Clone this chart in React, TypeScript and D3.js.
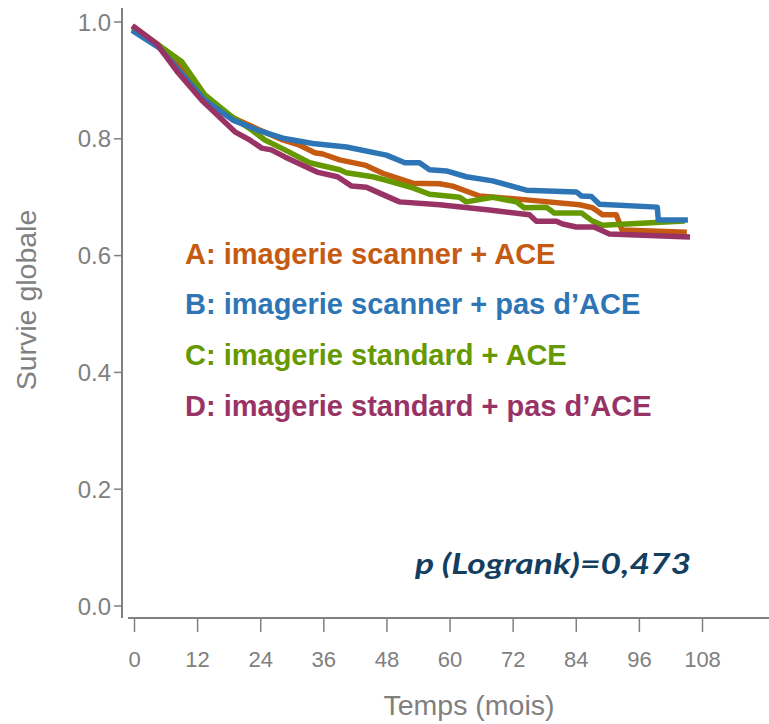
import React from "react";
import * as d3 from "d3";

// Kaplan-Meier style survival curves: [time (months), survival]
const seriesA: [number, number][] = [
  [0, 0.99], [4.5, 0.961], [9.2, 0.918], [13.4, 0.87], [18.7, 0.836], [23.8, 0.815],
  [28.2, 0.798], [31.4, 0.789], [34.3, 0.776], [35.8, 0.774], [39.0, 0.764], [43.8, 0.755],
  [47.2, 0.741], [52.9, 0.724], [58.0, 0.723], [60.5, 0.719], [65.6, 0.702], [75.1, 0.695],
  [84.6, 0.687], [87.1, 0.682], [89.0, 0.67], [91.6, 0.67], [92.7, 0.644], [104.5, 0.64],
];
const seriesB: [number, number][] = [
  [0, 0.983], [4.8, 0.955], [13.4, 0.866], [18.7, 0.832], [23.4, 0.815], [28.2, 0.801],
  [33.9, 0.792], [40.3, 0.786], [47.9, 0.772], [51.4, 0.759], [54.2, 0.759], [56.1, 0.747],
  [59.3, 0.745], [63.1, 0.735], [68.1, 0.728], [74.5, 0.712], [84.0, 0.709], [85.0, 0.702],
  [86.9, 0.701], [88.4, 0.688], [99.4, 0.683], [99.6, 0.661], [104.7, 0.661],
];
const seriesC: [number, number][] = [
  [0, 0.986], [4.5, 0.961], [9.0, 0.932], [13.4, 0.875], [18.5, 0.838], [22.3, 0.815],
  [24.8, 0.798], [28.6, 0.781], [33.3, 0.759], [39.0, 0.747], [40.3, 0.742], [45.3, 0.735],
  [47.9, 0.729], [52.9, 0.716], [56.1, 0.705], [61.8, 0.7], [63.1, 0.692], [68.1, 0.7],
  [72.6, 0.692], [74.1, 0.682], [78.3, 0.683], [79.8, 0.673], [85.0, 0.673], [87.1, 0.659],
  [89.0, 0.652], [104.1, 0.659],
];
const seriesD: [number, number][] = [
  [0, 0.991], [4.2, 0.963], [8.3, 0.913], [12.8, 0.866], [19.1, 0.812], [21.9, 0.798],
  [24.2, 0.784], [26.0, 0.781], [28.6, 0.769], [34.7, 0.743], [38.6, 0.735], [41.3, 0.719],
  [44.1, 0.717], [46.6, 0.707], [50.4, 0.692], [58.0, 0.687], [67.5, 0.678], [75.1, 0.67],
  [76.4, 0.659], [80.2, 0.659], [81.4, 0.654], [84.0, 0.649], [87.4, 0.649], [90.3, 0.637],
  [105.1, 0.632],
];

const legendLabels = [
  "A: imagerie scanner + ACE",
  "B: imagerie scanner + pas d\u2019ACE",
  "C: imagerie standard + ACE",
  "D: imagerie standard + pas d\u2019ACE",
];
const xTicks = [0, 12, 24, 36, 48, 60, 72, 84, 96, 108];
const yTicks = [0, 0.2, 0.4, 0.6, 0.8, 1.0];
const pValueText = "p (Logrank)=0,473";

const colors = {
  A: "#C55A11",
  B: "#2E75B6",
  C: "#669900",
  D: "#993366",
};
const axisGray = "#808080";

export default function App() {
  const width = 769;
  const height = 724;
  const x = d3.scaleLinear().domain([0, 108]).range([134.5, 702.5]);
  const y = d3.scaleLinear().domain([0, 1]).range([606, 22]);
  const line = d3
    .line<[number, number]>()
    .x((d) => x(d[0]))
    .y((d) => y(d[1]))
    .curve(d3.curveLinear);

  // drawing order: orange, green, blue, purple on top
  const curves = [
    { data: seriesA, color: colors.A },
    { data: seriesC, color: colors.C },
    { data: seriesB, color: colors.B },
    { data: seriesD, color: colors.D },
  ];
  const legendColors = [colors.A, colors.B, colors.C, colors.D];
  const legendBaselines = [264, 314, 365, 416];

  const yAxisX = 122;
  const xAxisY = 618;

  return (
    <svg
      width={width}
      height={height}
      style={{ position: "absolute", left: 0, top: 0, background: "#fff" }}
      fontFamily="'Liberation Sans', Arial, sans-serif"
    >
      <rect x={0} y={0} width={width} height={height} fill="#fff" />

      {/* y axis */}
      <line x1={yAxisX} x2={yAxisX} y1={8} y2={618} stroke={axisGray} strokeWidth={2} />
      {yTicks.map((t) => (
        <g key={t}>
          <line x1={yAxisX - 8} x2={yAxisX} y1={y(t)} y2={y(t)} stroke={axisGray} strokeWidth={1.5} />
          <text
            x={111}
            y={y(t)}
            dy="0.36em"
            textAnchor="end"
            fontSize={24}
            fill={axisGray}
          >
            {t.toFixed(1)}
          </text>
        </g>
      ))}
      <text
        transform={`translate(36, 300) rotate(-90)`}
        textAnchor="middle"
        fontSize={28.5}
        fill={axisGray}
      >
        Survie globale
      </text>

      {/* x axis */}
      <line x1={128} x2={769} y1={xAxisY} y2={xAxisY} stroke={axisGray} strokeWidth={2} />
      {xTicks.map((t) => (
        <g key={t}>
          <line x1={x(t)} x2={x(t)} y1={xAxisY} y2={xAxisY + 14} stroke={axisGray} strokeWidth={1.5} />
          <text x={x(t)} y={667} textAnchor="middle" fontSize={22} fill={axisGray}>
            {t}
          </text>
        </g>
      ))}
      <text x={469} y={715} textAnchor="middle" fontSize={28.5} fill={axisGray}>
        Temps (mois)
      </text>

      {/* survival curves */}
      {curves.map((c, i) => (
        <path
          key={i}
          d={line(c.data) || ""}
          fill="none"
          stroke={c.color}
          strokeWidth={5.5}
          strokeLinejoin="round"
          strokeLinecap="square"
        />
      ))}

      {/* legend */}
      {legendLabels.map((label, i) => (
        <text
          key={label}
          x={185}
          y={legendBaselines[i]}
          fontSize={29}
          fontWeight="bold"
          fill={legendColors[i]}
        >
          {label}
        </text>
      ))}

      {/* log-rank test */}
      <text
        x={415}
        y={574}
        fontFamily="Lato, 'Open Sans', sans-serif"
        fontSize={28.5}
        fontWeight="bold"
        fontStyle="italic"
        fill="#133E60"
        textLength={276}
        lengthAdjust="spacingAndGlyphs"
      >
        {pValueText}
      </text>
    </svg>
  );
}
